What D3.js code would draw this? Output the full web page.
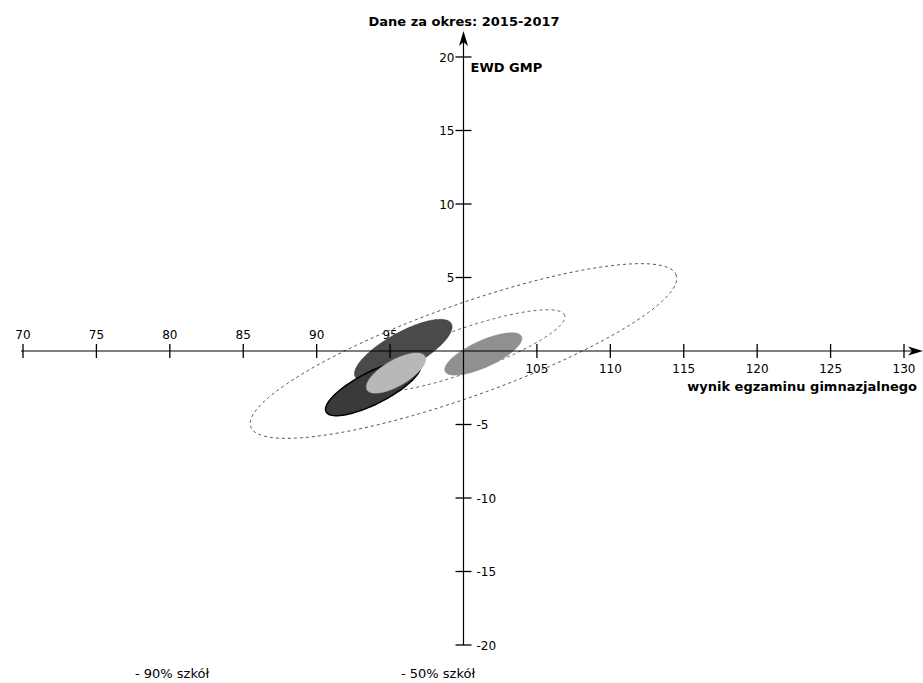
<!DOCTYPE html>
<html>
<head>
<meta charset="utf-8">
<script src="https://cdn.jsdelivr.net/npm/d3@7"></script>
<style>
  body { margin: 0; background: #fff; }
  svg { display: block; font-family: "DejaVu Sans", sans-serif; }
</style>
</head>
<body>
<div id="chart"></div>
<script>
// dane
const title = 'Dane za okres: 2015-2017';
const xTitle = 'wynik egzaminu gimnazjalnego';
const yTitle = 'EWD GMP';
const xTicks = [70, 75, 80, 85, 90, 95, 105, 110, 115, 120, 125, 130];
const yTicks = [-20, -15, -10, -5, 5, 10, 15, 20];
const legendLabels = ['- 90% szkół', '- 50% szkół'];

// elipsy: środek, półosie, kąt (stopnie)
const ellipseCx = [100, 100, 95.9, 93.85, 95.4, 101.35];
const ellipseCy = [0, 0, 0.05, -2.5, -1.5, -0.2];
const ellipseRx = [15.38, 7.31, 3.74, 3.6, 2.28, 2.86];
const ellipseRy = [3.13, 1.49, 1.22, 1.09, 0.88, 0.9];
const ellipseAngle = [19.6, 19.4, 29, 27, 30, 24.5];

const ellipseStyle = [
  { fill: 'none', stroke: '#555', dash: '3,3', sw: 1 },
  { fill: 'none', stroke: '#666', dash: '3,3', sw: 1 },
  { fill: '#4a4a4a', stroke: '#333', dash: null, sw: 0.5 },
  { fill: '#3a3a3a', stroke: '#000', dash: null, sw: 1.5 },
  { fill: '#b8b8b8', stroke: '#aaa', dash: null, sw: 0.5 },
  { fill: '#909090', stroke: '#888', dash: null, sw: 0.5 }
];

const width = 923, height = 683;

const x = d3.scaleLinear().domain([70, 130]).range([23, 904]);
const y = d3.scaleLinear().domain([-20, 20]).range([645, 57]);
const x0 = x(100), y0 = y(0);

const svg = d3.select('#chart').append('svg')
  .attr('width', width)
  .attr('height', height);

// etykiety X (pod elipsami, jak w oryginale)
svg.append('g').attr('class', 'x-labels')
  .selectAll('text').data(xTicks).join('text')
  .attr('x', d => x(d))
  .attr('y', d => d < 100 ? y0 - 12 : y0 + 22)
  .attr('text-anchor', 'middle')
  .attr('font-size', 12)
  .text(d => d);

function ellipsePoints(i) {
  const a = ellipseAngle[i] * Math.PI / 180;
  const pts = [];
  for (let k = 0; k < 180; k++) {
    const t = k / 180 * 2 * Math.PI;
    const ex = ellipseRx[i] * Math.cos(t), ey = ellipseRy[i] * Math.sin(t);
    pts.push([
      x(ellipseCx[i] + ex * Math.cos(a) - ey * Math.sin(a)),
      y(ellipseCy[i] + ex * Math.sin(a) + ey * Math.cos(a))
    ]);
  }
  return pts;
}

const line = d3.line().curve(d3.curveLinearClosed);

svg.append('g').attr('class', 'ellipses')
  .selectAll('path')
  .data(d3.range(ellipseCx.length))
  .join('path')
  .attr('d', i => line(ellipsePoints(i)))
  .attr('fill', i => ellipseStyle[i].fill)
  .attr('stroke', i => ellipseStyle[i].stroke)
  .attr('stroke-width', i => ellipseStyle[i].sw)
  .attr('stroke-dasharray', i => ellipseStyle[i].dash);

// osie
const axes = svg.append('g').attr('stroke', '#000').attr('fill', 'none');
axes.append('line').attr('x1', 21).attr('x2', 918).attr('y1', y0).attr('y2', y0).attr('stroke-width', 1.2);
axes.append('line').attr('x1', x0).attr('x2', x0).attr('y1', y(-20)).attr('y2', 36).attr('stroke-width', 1.2);

svg.append('path')
  .attr('d', `M${x0},31 L${x0 + 4.5},46 L${x0},42 L${x0 - 4.5},46 Z`)
  .attr('fill', '#000');
svg.append('path')
  .attr('d', `M923,${y0} L908,${y0 - 4.5} L912,${y0} L908,${y0 + 4.5} Z`)
  .attr('fill', '#000');

// podziałki X
svg.append('g').attr('class', 'x-ticks')
  .selectAll('line').data(xTicks).join('line')
  .attr('x1', d => x(d)).attr('x2', d => x(d))
  .attr('y1', y0 - 7).attr('y2', y0 + 7)
  .attr('stroke', '#000').attr('stroke-width', 1.3);

// podziałki Y
const yt = svg.append('g').attr('class', 'y-ticks');
yt.selectAll('line').data(yTicks).join('line')
  .attr('x1', x0 - 8).attr('x2', x0 + 8)
  .attr('y1', d => y(d)).attr('y2', d => y(d))
  .attr('stroke', '#000').attr('stroke-width', 1.3);
yt.selectAll('text').data(yTicks).join('text')
  .attr('x', d => d > 0 ? x0 - 9 : x0 + 13)
  .attr('y', d => y(d) + 4.5)
  .attr('text-anchor', d => d > 0 ? 'end' : 'start')
  .attr('font-size', 12)
  .text(d => d);

// tytuły
svg.append('text')
  .attr('x', 464).attr('y', 26)
  .attr('text-anchor', 'middle')
  .attr('font-size', 13).attr('font-weight', 'bold')
  .text(title);
svg.append('text')
  .attr('x', x0 + 7).attr('y', 72)
  .attr('font-size', 13).attr('font-weight', 'bold')
  .text(yTitle);
svg.append('text')
  .attr('x', 917).attr('y', 391)
  .attr('text-anchor', 'end')
  .attr('font-size', 13).attr('font-weight', 'bold')
  .text(xTitle);

// legenda
svg.append('g').selectAll('text').data(legendLabels).join('text')
  .attr('x', (d, i) => i === 0 ? 135 : 401)
  .attr('y', 678)
  .attr('font-size', 13)
  .text(d => d);
</script>
</body>
</html>
